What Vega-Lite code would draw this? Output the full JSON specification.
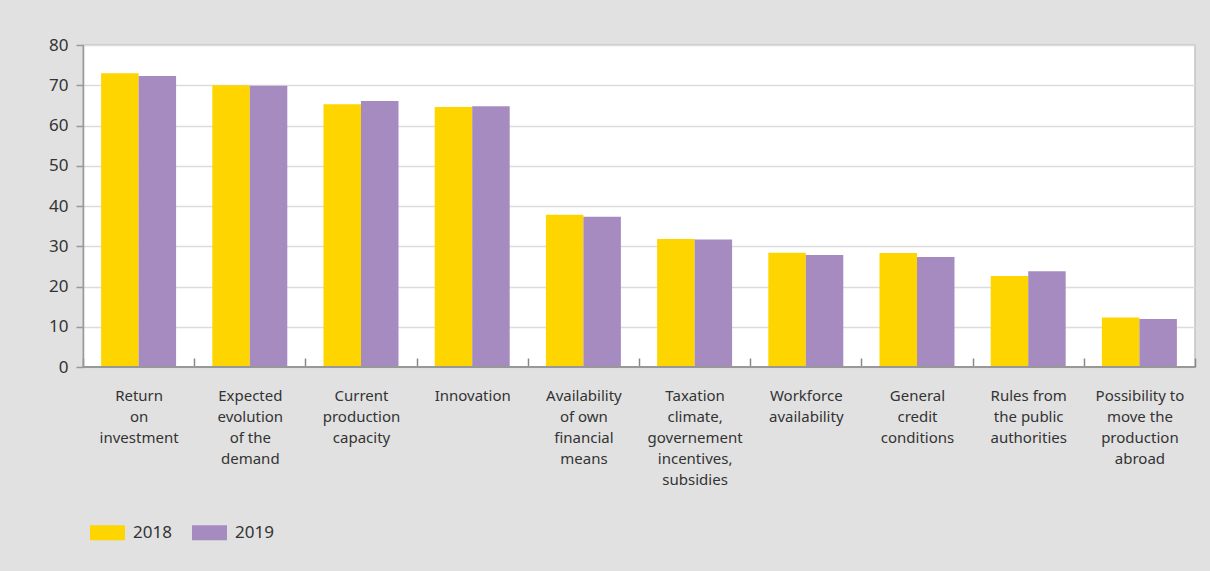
{
  "$schema": "https://vega.github.io/schema/vega-lite/v6.json",
  "width": 1112,
  "height": 322,
  "autosize": {"type": "none"},
  "padding": {"left": 83, "top": 45, "right": 15, "bottom": 204},
  "background": "#e1e1e1",
  "config": {
    "font": "Noto Sans",
    "view": {"fill": "#ffffff", "stroke": "#c4c4c4", "strokeWidth": 1.5}
  },
  "data": {
    "values": [
      {"factor": "Return on investment", "year": "2018", "value": 73.0},
      {"factor": "Return on investment", "year": "2019", "value": 72.3},
      {"factor": "Expected evolution of the demand", "year": "2018", "value": 70.0},
      {"factor": "Expected evolution of the demand", "year": "2019", "value": 69.9},
      {"factor": "Current production capacity", "year": "2018", "value": 65.3},
      {"factor": "Current production capacity", "year": "2019", "value": 66.1},
      {"factor": "Innovation", "year": "2018", "value": 64.6},
      {"factor": "Innovation", "year": "2019", "value": 64.8},
      {"factor": "Availability of own financial means", "year": "2018", "value": 37.8},
      {"factor": "Availability of own financial means", "year": "2019", "value": 37.3},
      {"factor": "Taxation climate, governement incentives, subsidies", "year": "2018", "value": 31.8},
      {"factor": "Taxation climate, governement incentives, subsidies", "year": "2019", "value": 31.7},
      {"factor": "Workforce availability", "year": "2018", "value": 28.4},
      {"factor": "Workforce availability", "year": "2019", "value": 27.8},
      {"factor": "General credit conditions", "year": "2018", "value": 28.3},
      {"factor": "General credit conditions", "year": "2019", "value": 27.3},
      {"factor": "Rules from the public authorities", "year": "2018", "value": 22.6},
      {"factor": "Rules from the public authorities", "year": "2019", "value": 23.8},
      {"factor": "Possibility to move the production abroad", "year": "2018", "value": 12.3},
      {"factor": "Possibility to move the production abroad", "year": "2019", "value": 11.9}
    ]
  },
  "layer": [
    {
      "mark": {"type": "bar"},
      "encoding": {
        "x": {
          "field": "factor",
          "type": "nominal",
          "sort": null,
          "scale": {"paddingInner": 0, "paddingOuter": 0},
          "axis": {
            "title": null,
            "labelAngle": 0,
            "domain": false,
            "offset": -9,
            "tickBand": "extent",
            "tickSize": 9,
            "tickColor": "#888888",
            "tickWidth": 1.5,
            "labelFontSize": 15,
            "labelColor": "#333333",
            "labelBaseline": "top",
            "labelLineHeight": 21,
            "labelPadding": 21,
            "labelExpr": "({'Return on investment': ['Return','on','investment'], 'Expected evolution of the demand': ['Expected','evolution','of the','demand'], 'Current production capacity': ['Current','production','capacity'], 'Innovation': ['Innovation'], 'Availability of own financial means': ['Availability','of own','financial','means'], 'Taxation climate, governement incentives, subsidies': ['Taxation','climate,','governement','incentives,','subsidies'], 'Workforce availability': ['Workforce','availability'], 'General credit conditions': ['General','credit','conditions'], 'Rules from the public authorities': ['Rules from','the public','authorities'], 'Possibility to move the production abroad': ['Possibility to','move the','production','abroad']})[datum.label]"
          }
        },
        "xOffset": {
          "field": "year",
          "type": "nominal",
          "scale": {"paddingInner": 0, "paddingOuter": 0.483}
        },
        "y": {
          "field": "value",
          "type": "quantitative",
          "scale": {"domain": [0, 80]},
          "axis": {
            "title": null,
            "values": [0, 10, 20, 30, 40, 50, 60, 70, 80],
            "gridColor": "#dcdcdc",
            "gridWidth": 1.5,
            "tickColor": "#999999",
            "tickSize": 7,
            "tickWidth": 1.5,
            "domainColor": "#999999",
            "domainWidth": 1.5,
            "labelFontSize": 17,
            "labelColor": "#333333",
            "labelPadding": 8
          }
        },
        "color": {
          "field": "year",
          "type": "nominal",
          "scale": {"domain": ["2018", "2019"], "range": ["#ffd500", "#a68bc0"]},
          "legend": {
            "title": null,
            "orient": "none",
            "legendX": 7,
            "legendY": 470,
            "direction": "horizontal",
            "symbolType": "M-1,-0.43H1V0.43H-1Z",
            "symbolSize": 1225,
            "symbolStrokeWidth": 0,
            "labelFontSize": 17,
            "labelColor": "#333333",
            "labelOffset": 8,
            "columnPadding": 20
          }
        }
      }
    },
    {
      "mark": {"type": "rule", "color": "#999999", "strokeWidth": 1.5},
      "encoding": {"y": {"datum": 0}}
    }
  ]
}
